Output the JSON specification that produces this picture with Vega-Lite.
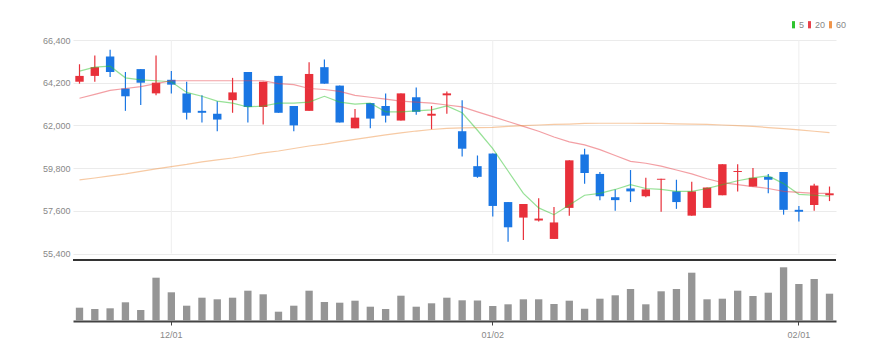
{
  "$schema": "https://vega.github.io/schema/vega-lite/v6.json",
  "autosize": "none",
  "width": 763,
  "height": 281,
  "padding": {"left": 73, "top": 40, "right": 46, "bottom": 40},
  "background": "white",
  "config": {
    "view": {"stroke": null},
    "font": "Liberation Sans Narrow, Liberation Sans, sans-serif"
  },
  "data": {"values": [
    {"d":"11/23","o":64250,"h":65150,"l":64150,"c":64550,"vol":133000,"5":64800,"20":63400,"60":59190},
    {"d":"11/24","o":64550,"h":65600,"l":64250,"c":65000,"vol":120000,"5":65000,"20":63600,"60":59290},
    {"d":"11/25","o":65550,"h":65900,"l":64500,"c":64750,"vol":127000,"5":65050,"20":63800,"60":59400},
    {"d":"11/26","o":63900,"h":64750,"l":62750,"c":63500,"vol":187000,"5":64450,"20":63900,"60":59500},
    {"d":"11/27","o":64900,"h":64900,"l":63050,"c":64200,"vol":110000,"5":64350,"20":64000,"60":59630},
    {"d":"11/30","o":63650,"h":65600,"l":63550,"c":64200,"vol":433000,"5":64300,"20":64150,"60":59760},
    {"d":"12/01","o":64350,"h":64800,"l":63650,"c":64100,"vol":287000,"5":64250,"20":64300,"60":59880},
    {"d":"12/02","o":63650,"h":64250,"l":62300,"c":62650,"vol":153000,"5":63700,"20":64300,"60":59990},
    {"d":"12/03","o":62750,"h":63550,"l":62150,"c":62650,"vol":233000,"5":63500,"20":64300,"60":60120},
    {"d":"12/04","o":62600,"h":63250,"l":61700,"c":62300,"vol":217000,"5":63250,"20":64300,"60":60220},
    {"d":"12/07","o":63300,"h":64450,"l":62650,"c":63700,"vol":233000,"5":63150,"20":64300,"60":60320},
    {"d":"12/08","o":64750,"h":64750,"l":62150,"c":62950,"vol":303000,"5":62950,"20":64300,"60":60450},
    {"d":"12/09","o":62950,"h":64250,"l":62050,"c":64250,"vol":267000,"5":63000,"20":64300,"60":60580},
    {"d":"12/10","o":64550,"h":64550,"l":62650,"c":62650,"vol":93000,"5":63150,"20":64150,"60":60680},
    {"d":"12/11","o":63000,"h":63000,"l":61700,"c":62000,"vol":153000,"5":63150,"20":64100,"60":60810},
    {"d":"12/14","o":62750,"h":65250,"l":62750,"c":64650,"vol":303000,"5":63200,"20":63900,"60":60940},
    {"d":"12/15","o":65000,"h":65400,"l":64150,"c":64150,"vol":190000,"5":63500,"20":63850,"60":61040},
    {"d":"12/16","o":64050,"h":64050,"l":62150,"c":62150,"vol":183000,"5":63200,"20":63750,"60":61160},
    {"d":"12/17","o":61850,"h":62850,"l":61850,"c":62400,"vol":203000,"5":63100,"20":63550,"60":61280},
    {"d":"12/18","o":63150,"h":63150,"l":61850,"c":62350,"vol":143000,"5":63150,"20":63450,"60":61400},
    {"d":"12/21","o":63000,"h":63650,"l":62150,"c":62500,"vol":120000,"5":62700,"20":63350,"60":61510},
    {"d":"12/22","o":62250,"h":63650,"l":62250,"c":63650,"vol":253000,"5":62700,"20":63250,"60":61610},
    {"d":"12/23","o":63450,"h":63950,"l":62550,"c":62700,"vol":143000,"5":62750,"20":63200,"60":61710},
    {"d":"12/24","o":62500,"h":63000,"l":61800,"c":62600,"vol":177000,"5":62800,"20":63150,"60":61790},
    {"d":"12/28","o":63550,"h":63750,"l":62600,"c":63650,"vol":233000,"5":63000,"20":63050,"60":61850},
    {"d":"12/29","o":61700,"h":63300,"l":60400,"c":60800,"vol":207000,"5":62650,"20":62950,"60":61870},
    {"d":"12/30","o":59900,"h":60450,"l":59300,"c":59350,"vol":205000,"5":61750,"20":62700,"60":61890},
    {"d":"01/02","o":60550,"h":60550,"l":57300,"c":57850,"vol":150000,"5":60800,"20":62450,"60":61900},
    {"d":"01/05","o":58050,"h":58050,"l":56000,"c":56750,"vol":167000,"5":59650,"20":62200,"60":61950},
    {"d":"01/06","o":57250,"h":57950,"l":56100,"c":57950,"vol":217000,"5":58500,"20":61950,"60":61990},
    {"d":"01/07","o":57100,"h":58250,"l":57050,"c":57200,"vol":217000,"5":57750,"20":61700,"60":62020},
    {"d":"01/08","o":56150,"h":57800,"l":56150,"c":57000,"vol":170000,"5":57400,"20":61400,"60":62050},
    {"d":"01/11","o":57750,"h":60200,"l":57350,"c":60200,"vol":203000,"5":57900,"20":61150,"60":62070},
    {"d":"01/12","o":60500,"h":60800,"l":59000,"c":59550,"vol":123000,"5":58400,"20":61000,"60":62100},
    {"d":"01/13","o":59500,"h":59600,"l":58150,"c":58350,"vol":223000,"5":58500,"20":60750,"60":62110},
    {"d":"01/14","o":58300,"h":58700,"l":57600,"c":58150,"vol":257000,"5":58700,"20":60450,"60":62110},
    {"d":"01/15","o":58750,"h":59700,"l":58050,"c":58600,"vol":320000,"5":58950,"20":60150,"60":62110},
    {"d":"01/18","o":58350,"h":59300,"l":58300,"c":58700,"vol":167000,"5":58750,"20":60050,"60":62100},
    {"d":"01/19","o":59200,"h":59250,"l":57550,"c":59250,"vol":297000,"5":58700,"20":59900,"60":62100},
    {"d":"01/20","o":58600,"h":59200,"l":57700,"c":58050,"vol":320000,"5":58600,"20":59700,"60":62080},
    {"d":"01/21","o":57350,"h":59100,"l":57350,"c":58600,"vol":483000,"5":58600,"20":59500,"60":62070},
    {"d":"01/22","o":57750,"h":58800,"l":57750,"c":58800,"vol":217000,"5":58750,"20":59250,"60":62050},
    {"d":"01/25","o":58400,"h":60000,"l":58400,"c":60000,"vol":223000,"5":58950,"20":59050,"60":62020},
    {"d":"01/26","o":59600,"h":60000,"l":58600,"c":59650,"vol":303000,"5":59150,"20":58950,"60":61990},
    {"d":"01/27","o":58850,"h":59800,"l":58850,"c":59300,"vol":250000,"5":59300,"20":58850,"60":61950},
    {"d":"01/28","o":59350,"h":59500,"l":58500,"c":59200,"vol":283000,"5":59400,"20":58750,"60":61890},
    {"d":"01/29","o":59600,"h":59600,"l":57400,"c":57650,"vol":537000,"5":59000,"20":58600,"60":61830},
    {"d":"02/01","o":57650,"h":57850,"l":57050,"c":57550,"vol":370000,"5":58450,"20":58550,"60":61770},
    {"d":"02/02","o":57900,"h":59000,"l":57600,"c":58900,"vol":420000,"5":58400,"20":58500,"60":61700},
    {"d":"02/03","o":58400,"h":58850,"l":58100,"c":58500,"vol":273000,"5":58350,"20":58500,"60":61630}
  ]},
  "layer": [
    {
      "layer": [
        {
          "transform": [{"filter": {"field": "d", "oneOf": ["12/01", "01/02", "02/01"]}}],
          "mark": {"type": "rule", "color": "#eeeeee", "strokeWidth": 1},
          "encoding": {
            "x": {"field": "d", "type": "ordinal", "scale": {"domain": ["11/23","11/24","11/25","11/26","11/27","11/30","12/01","12/02","12/03","12/04","12/07","12/08","12/09","12/10","12/11","12/14","12/15","12/16","12/17","12/18","12/21","12/22","12/23","12/24","12/28","12/29","12/30","01/02","01/05","01/06","01/07","01/08","01/11","01/12","01/13","01/14","01/15","01/18","01/19","01/20","01/21","01/22","01/25","01/26","01/27","01/28","01/29","02/01","02/02","02/03"], "paddingInner": 0.45, "paddingOuter": 0.15}, "axis": {"values": ["12/01","01/02","02/01"], "title": null, "labelAngle": 0, "grid": false, "domainColor": "#444444", "domainWidth": 2, "tickColor": "#444444", "tickSize": 4, "labelColor": "#888888", "labelFontSize": 9, "labelPadding": 5}},
            "y": {"datum": 66400, "type": "quantitative", "scale": {"domain": [55400, 66400], "range": [213.5, 0], "nice": false, "zero": false}, "axis": {"values": [55400,57600,59800,62000,64200,66400], "format": ",d", "title": null, "grid": true, "gridColor": "#ebebeb", "domain": false, "ticks": false, "labelPadding": 3, "labelColor": "#888888", "labelFontSize": 9}},
            "y2": {"datum": 55400}
          }
        },
        {
          "mark": {"type": "rule", "strokeWidth": 1.2},
          "encoding": {
            "x": {"field": "d", "type": "ordinal", "scale": {"domain": ["11/23","11/24","11/25","11/26","11/27","11/30","12/01","12/02","12/03","12/04","12/07","12/08","12/09","12/10","12/11","12/14","12/15","12/16","12/17","12/18","12/21","12/22","12/23","12/24","12/28","12/29","12/30","01/02","01/05","01/06","01/07","01/08","01/11","01/12","01/13","01/14","01/15","01/18","01/19","01/20","01/21","01/22","01/25","01/26","01/27","01/28","01/29","02/01","02/02","02/03"], "paddingInner": 0.45, "paddingOuter": 0.15}, "axis": {"values": ["12/01","01/02","02/01"], "title": null, "labelAngle": 0, "grid": false, "domainColor": "#444444", "domainWidth": 2, "tickColor": "#444444", "tickSize": 4, "labelColor": "#888888", "labelFontSize": 9, "labelPadding": 5}},
            "y": {"field": "l", "type": "quantitative", "scale": {"domain": [55400, 66400], "range": [213.5, 0], "nice": false, "zero": false}, "axis": {"values": [55400,57600,59800,62000,64200,66400], "format": ",d", "title": null, "grid": true, "gridColor": "#ebebeb", "domain": false, "ticks": false, "labelPadding": 3, "labelColor": "#888888", "labelFontSize": 9}},
            "y2": {"field": "h"},
            "color": {"condition": {"test": "datum.c > datum.o", "value": "#e8303a"}, "value": "#1a76e3"}
          }
        },
        {
          "mark": {"type": "bar"},
          "encoding": {
            "x": {"field": "d", "type": "ordinal", "scale": {"domain": ["11/23","11/24","11/25","11/26","11/27","11/30","12/01","12/02","12/03","12/04","12/07","12/08","12/09","12/10","12/11","12/14","12/15","12/16","12/17","12/18","12/21","12/22","12/23","12/24","12/28","12/29","12/30","01/02","01/05","01/06","01/07","01/08","01/11","01/12","01/13","01/14","01/15","01/18","01/19","01/20","01/21","01/22","01/25","01/26","01/27","01/28","01/29","02/01","02/02","02/03"], "paddingInner": 0.45, "paddingOuter": 0.15}, "axis": {"values": ["12/01","01/02","02/01"], "title": null, "labelAngle": 0, "grid": false, "domainColor": "#444444", "domainWidth": 2, "tickColor": "#444444", "tickSize": 4, "labelColor": "#888888", "labelFontSize": 9, "labelPadding": 5}},
            "y": {"field": "o", "type": "quantitative", "scale": {"domain": [55400, 66400], "range": [213.5, 0], "nice": false, "zero": false}, "axis": {"values": [55400,57600,59800,62000,64200,66400], "format": ",d", "title": null, "grid": true, "gridColor": "#ebebeb", "domain": false, "ticks": false, "labelPadding": 3, "labelColor": "#888888", "labelFontSize": 9}},
            "y2": {"field": "c"},
            "color": {"condition": {"test": "datum.c > datum.o", "value": "#e8303a"}, "value": "#1a76e3"}
          }
        },
        {
          "transform": [{"fold": ["5", "20", "60"], "as": ["ma", "p"]}],
          "mark": {"type": "line", "strokeWidth": 1.2, "strokeOpacity": 0.5},
          "encoding": {
            "x": {"field": "d", "type": "ordinal", "scale": {"domain": ["11/23","11/24","11/25","11/26","11/27","11/30","12/01","12/02","12/03","12/04","12/07","12/08","12/09","12/10","12/11","12/14","12/15","12/16","12/17","12/18","12/21","12/22","12/23","12/24","12/28","12/29","12/30","01/02","01/05","01/06","01/07","01/08","01/11","01/12","01/13","01/14","01/15","01/18","01/19","01/20","01/21","01/22","01/25","01/26","01/27","01/28","01/29","02/01","02/02","02/03"], "paddingInner": 0.45, "paddingOuter": 0.15}, "axis": {"values": ["12/01","01/02","02/01"], "title": null, "labelAngle": 0, "grid": false, "domainColor": "#444444", "domainWidth": 2, "tickColor": "#444444", "tickSize": 4, "labelColor": "#888888", "labelFontSize": 9, "labelPadding": 5}},
            "y": {"field": "p", "type": "quantitative", "scale": {"domain": [55400, 66400], "range": [213.5, 0], "nice": false, "zero": false}, "axis": {"values": [55400,57600,59800,62000,64200,66400], "format": ",d", "title": null, "grid": true, "gridColor": "#ebebeb", "domain": false, "ticks": false, "labelPadding": 3, "labelColor": "#888888", "labelFontSize": 9}},
            "color": {
              "field": "ma", "type": "nominal",
              "scale": {"domain": ["5", "20", "60"], "range": ["#2ec42e", "#e8404a", "#f0954a"]},
              "legend": {
                "title": null, "orient": "none", "legendX": 716, "legendY": -20,
                "direction": "horizontal", "padding": 0, "columnPadding": 0, "labelOffset": 1,
                "symbolType": "M-1,-2.4L1,-2.4L1,2.4L-1,2.4Z", "symbolSize": 9,
                "symbolStrokeWidth": 0, "symbolOpacity": 1,
                "labelFontSize": 9, "labelColor": "#888888",
                "encode": {"symbols": {"update": {"fill": {"scale": "color", "field": "value"}, "opacity": {"value": 1}}}}
              }
            }
          }
        }
      ]
    },
    {
      "layer": [
        {
          "mark": {"type": "bar", "color": "#959595", "width": {"band": 0.87}},
          "encoding": {
            "x": {"field": "d", "type": "ordinal", "scale": {"domain": ["11/23","11/24","11/25","11/26","11/27","11/30","12/01","12/02","12/03","12/04","12/07","12/08","12/09","12/10","12/11","12/14","12/15","12/16","12/17","12/18","12/21","12/22","12/23","12/24","12/28","12/29","12/30","01/02","01/05","01/06","01/07","01/08","01/11","01/12","01/13","01/14","01/15","01/18","01/19","01/20","01/21","01/22","01/25","01/26","01/27","01/28","01/29","02/01","02/02","02/03"], "paddingInner": 0.45, "paddingOuter": 0.15}, "axis": {"values": ["12/01","01/02","02/01"], "title": null, "labelAngle": 0, "grid": false, "domainColor": "#444444", "domainWidth": 2, "tickColor": "#444444", "tickSize": 4, "labelColor": "#888888", "labelFontSize": 9, "labelPadding": 5}},
            "y": {"field": "vol", "type": "quantitative", "scale": {"domain": [0, 610000], "range": [281, 220], "nice": false}, "axis": null}
          }
        },
        {
          "mark": {"type": "rule", "color": "#333333", "strokeWidth": 2},
          "encoding": {
            "y": {"datum": 610000, "type": "quantitative", "scale": {"domain": [0, 610000], "range": [281, 220], "nice": false}, "axis": null}
          }
        }
      ]
    }
  ],
  "resolve": {"scale": {"y": "independent"}}
}
